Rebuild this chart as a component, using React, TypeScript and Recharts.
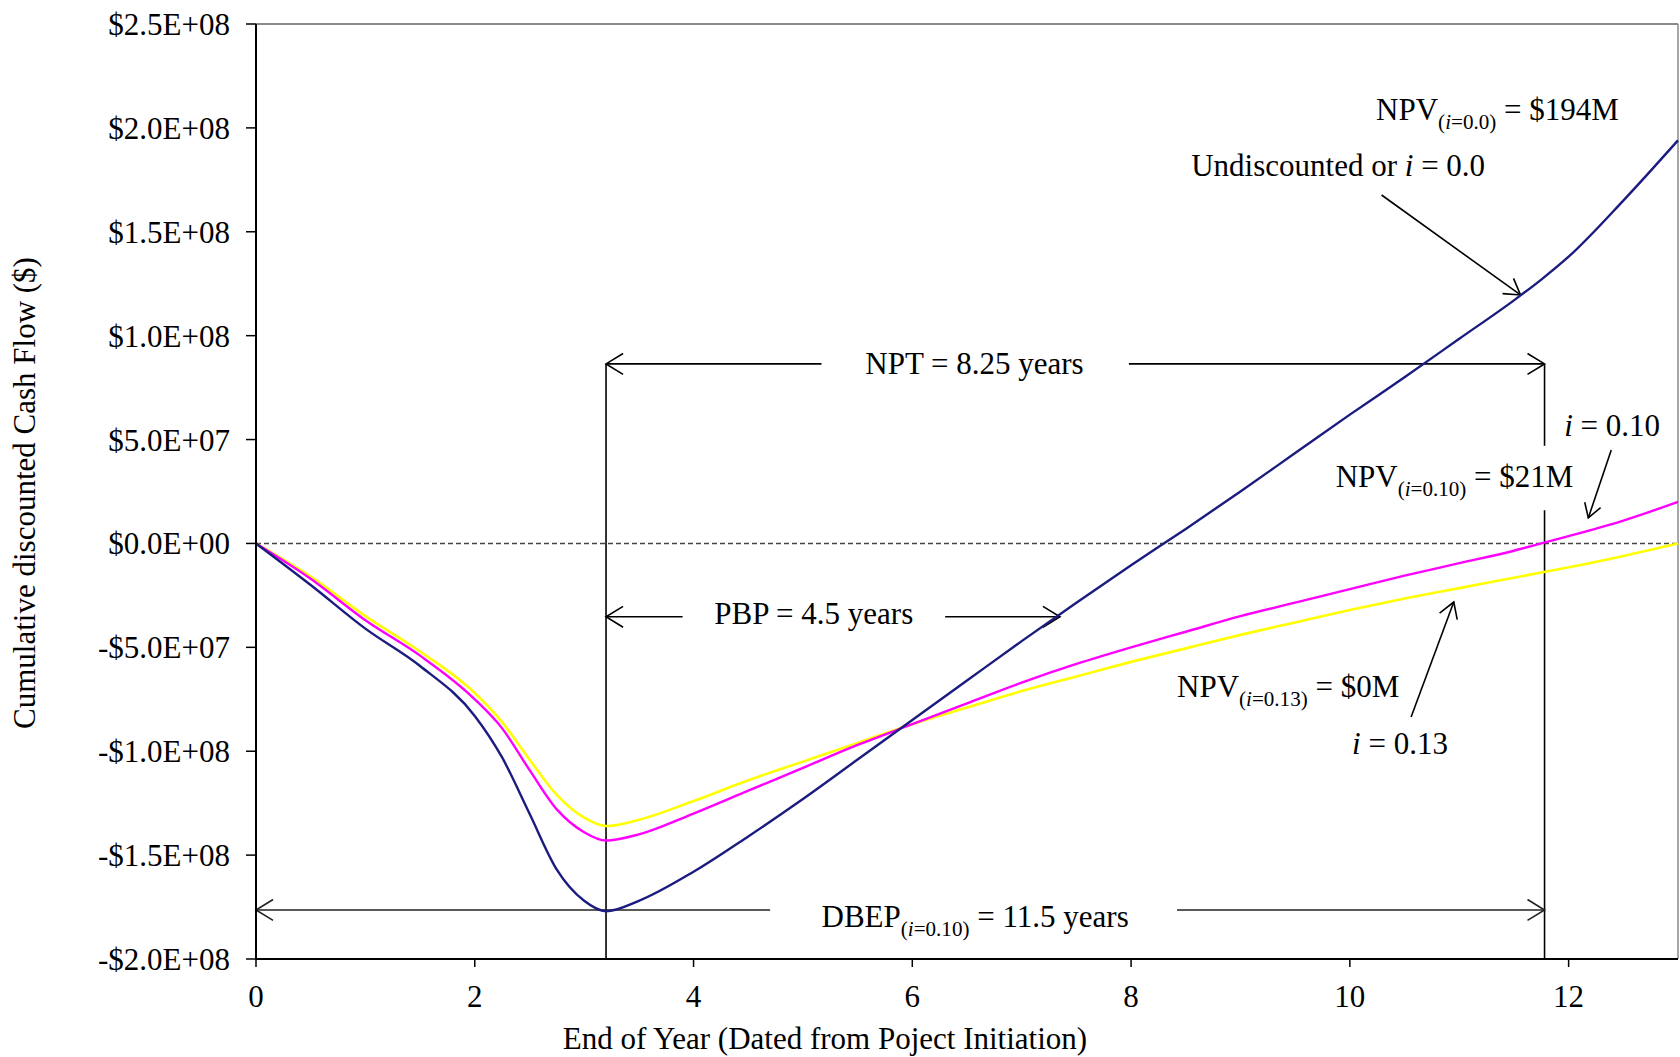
import React from "react";
import { LineChart, Line, XAxis, YAxis, ReferenceLine, ReferenceDot, Label } from "recharts";

// end of year, dated from project initiation
const years = [0, 0.5, 1, 1.5, 2, 2.25, 2.5, 2.75, 3, 3.2, 3.5, 4, 4.5, 5, 5.5, 6, 6.5, 7, 7.5, 8, 8.5, 9, 9.5, 10, 10.5, 11, 11.5, 11.75, 12, 12.5, 13];

// cumulative cash flow, $M
const undiscounted = [0, -20, -41, -59, -83, -103, -130, -157, -172, -177, -172, -158, -141, -123, -104, -85, -66, -47, -28.5, -10.5, 7, 25, 43.5, 62, 80, 98.5, 117, 127, 138, 165, 194];
const rate10 = [0, -17, -37, -54, -75, -89, -109, -128, -139, -143, -140, -130, -119, -108, -97, -87, -77, -67, -58, -50, -42.5, -35, -28.5, -22, -15.5, -9.5, -3.5, 0, 3.5, 11, 20];
const rate13 = [0, -16, -35, -52, -72, -86, -104, -121, -132, -136, -133, -124, -114, -105, -96, -87, -79, -71, -64, -57, -50.5, -44, -38, -32, -26.5, -21.5, -16.5, -14, -11.5, -6, 0];

const xTicks = [0, 2, 4, 6, 8, 10, 12];
const yTicks = [-2e8, -1.5e8, -1e8, -5e7, 0, 5e7, 1e8, 1.5e8, 2e8, 2.5e8];

// key years / levels of the annotation marks
const minYear = 3.2;
const breakEvenYear = 11.78;
const paybackYear = 7.35;
const nptLevel = 86.4e6;
const pbpLevel = -35.3e6;
const dbepLevel = -176.4e6;

const FONT = "'Liberation Serif', 'Times New Roman', serif";

const data = years.map((year, i) => ({
  year,
  i0: undiscounted[i] * 1e6,
  i10: rate10[i] * 1e6,
  i13: rate13[i] * 1e6,
}));

const fmtSci = (v: number) => {
  if (v === 0) return "$0.0E+00";
  const a = Math.abs(v);
  const e = Math.floor(Math.log10(a) + 1e-9);
  const m = a / Math.pow(10, e);
  return (v < 0 ? "-" : "") + "$" + m.toFixed(1) + "E+" + String(e).padStart(2, "0");
};

type Part = { t: string; sub?: boolean; it?: boolean };

const Annot = ({ cx, cy, parts, size = 31 }: { cx: number; cy: number; parts: Part[]; size?: number }) => {
  const shift = 9;
  let prevSub = false;
  return (
    <text x={cx} y={cy} fontFamily={FONT} fontSize={size} fill="#000">
      {parts.map((p, k) => {
        const dy = (p.sub ? shift : 0) - (prevSub ? shift : 0);
        prevSub = !!p.sub;
        return (
          <tspan key={k} dy={dy} fontSize={p.sub ? size * 0.68 : size} fontStyle={p.it ? "italic" : "normal"}>
            {p.t}
          </tspan>
        );
      })}
    </text>
  );
};

const arrow = (heads: "start" | "end" | "both" | "none", color = "#000", L = 20) => (p: any) => {
  const { x1, y1, x2, y2 } = p;
  const ang = Math.atan2(y2 - y1, x2 - x1);
  const A = 0.55;
  const head = (x: number, y: number, a: number) =>
    `M${x - L * Math.cos(a - A)},${y - L * Math.sin(a - A)}L${x},${y}L${x - L * Math.cos(a + A)},${y - L * Math.sin(a + A)}`;
  return (
    <g>
      <line x1={x1} y1={y1} x2={x2} y2={y2} stroke={color} strokeWidth={1.6} />
      {(heads === "end" || heads === "both") && <path d={head(x2, y2, ang)} fill="none" stroke={color} strokeWidth={1.6} />}
      {(heads === "start" || heads === "both") && <path d={head(x1, y1, ang + Math.PI)} fill="none" stroke={color} strokeWidth={1.6} />}
    </g>
  );
};

const seg = (xa: number, ya: number, xb: number, yb: number, heads: "start" | "end" | "both" | "none", key: string, color = "#000", L = 20) => (
  <ReferenceLine key={key} segment={[{ x: xa, y: ya }, { x: xb, y: yb }]} shape={arrow(heads, color, L)} />
);

const note = (x: number, y: number, parts: Part[], key: string) => (
  <ReferenceDot key={key} x={x} y={y} r={0} shape={(p: any) => <Annot cx={p.cx} cy={p.cy} parts={parts} />} />
);

export default function App() {
  return (
    <div style={{ position: "absolute", left: 0, top: 0, background: "#fff" }}>
      <LineChart width={1680} height={1057} data={data} margin={{ top: 24, right: 2, bottom: 38, left: 16 }}>
        <ReferenceLine y={2.5e8} stroke="#8a8a8a" strokeWidth={2} />
        <ReferenceLine x={13} stroke="#8a8a8a" strokeWidth={1.5} />
        <ReferenceLine y={0} stroke="#444" strokeWidth={1.5} strokeDasharray="5 3" />
        <XAxis
          dataKey="year"
          type="number"
          domain={[0, 13]}
          ticks={xTicks}
          height={60}
          tickSize={8}
          tickMargin={18}
          axisLine={{ stroke: "#000", strokeWidth: 2 }}
          tickLine={{ stroke: "#000", strokeWidth: 1.5 }}
          tick={{ fill: "#000", fontSize: 31, fontFamily: FONT }}
        >
          <Label
            content={() => (
              <text x={825} y={1049} textAnchor="middle" fontFamily={FONT} fontSize={31} fill="#000">
                End of Year (Dated from Poject Initiation)
              </text>
            )}
          />
        </XAxis>
        <YAxis
          type="number"
          domain={[-2e8, 2.5e8]}
          ticks={yTicks}
          width={240}
          tickSize={10}
          tickMargin={16}
          tickFormatter={fmtSci}
          axisLine={{ stroke: "#000", strokeWidth: 2 }}
          tickLine={{ stroke: "#000", strokeWidth: 1.5 }}
          tick={{ fill: "#000", fontSize: 31, fontFamily: FONT }}
        >
          <Label
            content={() => (
              <text
                x={24}
                y={493}
                transform="rotate(-90 24 493)"
                textAnchor="middle"
                dominantBaseline="central"
                fontFamily={FONT}
                fontSize={31}
                fill="#000"
              >
                Cumulative discounted Cash Flow ($)
              </text>
            )}
          />
        </YAxis>

        {/* vertical markers */}
        {seg(minYear, -2e8, minYear, nptLevel, "none", "v1")}
        {seg(breakEvenYear, 47e6, breakEvenYear, nptLevel, "none", "v2a")}
        {seg(breakEvenYear, -2e8, breakEvenYear, 16e6, "none", "v2b")}

        {/* NPT */}
        {seg(minYear, nptLevel, 5.17, nptLevel, "start", "npt1")}
        {seg(7.98, nptLevel, breakEvenYear, nptLevel, "end", "npt2")}
        {/* PBP */}
        {seg(minYear, pbpLevel, 3.9, pbpLevel, "start", "pbp1")}
        {seg(6.3, pbpLevel, paybackYear, pbpLevel, "end", "pbp2")}
        {/* DBEP */}
        {seg(0, dbepLevel, 4.7, dbepLevel, "start", "dbep1", "#222")}
        {seg(8.42, dbepLevel, breakEvenYear, dbepLevel, "end", "dbep2", "#222")}

        {/* pointers to the curves */}
        {seg(10.29, 167.7e6, 11.56, 119.6e6, "end", "p0", "#000", 18)}
        {seg(12.39, 45e6, 12.18, 12.3e6, "end", "p10", "#000", 16)}
        {seg(10.56, -83.5e6, 10.95, -28.2e6, "end", "p13", "#000", 18)}

        <Line type="monotone" dataKey="i13" stroke="#ffff00" strokeWidth={2.6} dot={false} activeDot={false} isAnimationActive={false} />
        <Line type="monotone" dataKey="i10" stroke="#ff00ff" strokeWidth={2.4} dot={false} activeDot={false} isAnimationActive={false} />
        <Line type="monotone" dataKey="i0" stroke="#1b1b80" strokeWidth={2.4} dot={false} activeDot={false} isAnimationActive={false} />

        {note(10.24, 204e6, [{ t: "NPV" }, { t: "(", sub: true }, { t: "i", sub: true, it: true }, { t: "=0.0)", sub: true }, { t: " = $194M" }], "t1")}
        {note(8.55, 177e6, [{ t: "Undiscounted or " }, { t: "i", it: true }, { t: " = 0.0" }], "t2")}
        {note(11.96, 51.7e6, [{ t: "i", it: true }, { t: " = 0.10" }], "t3")}
        {note(9.87, 27.2e6, [{ t: "NPV" }, { t: "(", sub: true }, { t: "i", sub: true, it: true }, { t: "=0.10)", sub: true }, { t: " = $21M" }], "t4")}
        {note(8.42, -73.9e6, [{ t: "NPV" }, { t: "(", sub: true }, { t: "i", sub: true, it: true }, { t: "=0.13)", sub: true }, { t: " = $0M" }], "t5")}
        {note(10.02, -101.3e6, [{ t: "i", it: true }, { t: " = 0.13" }], "t6")}
        {note(5.57, 81.6e6, [{ t: "NPT = 8.25 years" }], "t7")}
        {note(4.19, -38.7e6, [{ t: "PBP = 4.5 years" }], "t8")}
        {note(5.17, -184.5e6, [{ t: "DBEP" }, { t: "(", sub: true }, { t: "i", sub: true, it: true }, { t: "=0.10)", sub: true }, { t: " = 11.5 years" }], "t9")}
      </LineChart>
    </div>
  );
}
